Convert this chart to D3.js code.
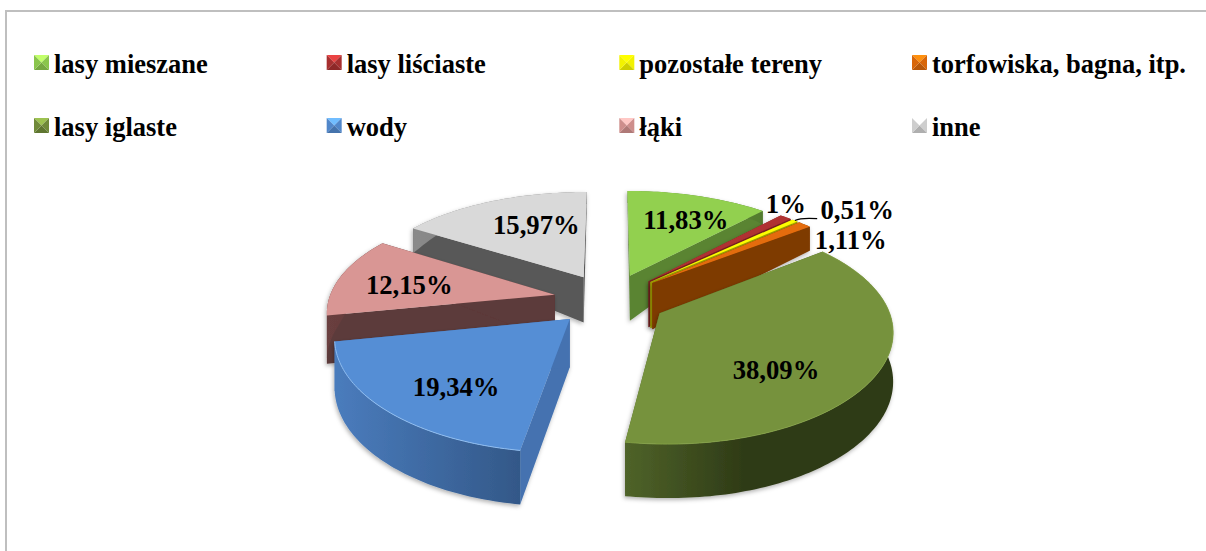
<!DOCTYPE html>
<html><head><meta charset="utf-8">
<style>html,body{margin:0;padding:0;background:#fff}svg{display:block}text{font-family:"Liberation Serif",serif;font-weight:bold;fill:#000}</style>
<script src="https://cdn.jsdelivr.net/npm/d3@7/dist/d3.min.js"></script>
</head><body><svg id="c" width="1206" height="551"></svg>
<script>
const categories = ["lasy mieszane","lasy liściaste","pozostałe tereny","torfowiska, bagna, itp.","lasy iglaste","wody","łąki","inne"];
const values = [11.83,1,0.51,1.11,38.09,19.34,12.15,15.97];
const labels = ["11,83%","1%","0,51%","1,11%","38,09%","19,34%","12,15%","15,97%"];
const topColors  = ["#92d050","#b03232","#ffff00","#e46c0a","#76923c","#558ed5","#d99694","#d9d9d9"];
const faceColors = ["#5a8431","#7a2020","#a0a000","#7e3a05","#4f6228","#4472b0","#5c3a3a","#595959"];
const wallLight  = ["#6a9a3a","#8a2525","#b0b000","#7e3a05","#4f6329","#4a7cbd","#6a3f3f","#8a8a8a"];
const wallDark   = ["#527a2e","#7a2020","#a0a000","#7e3a05","#2e3a16","#335888","#5c3a3a","#777777"];
// painter's order, back to front
const drawOrder = [0,7,1,2,3,6,5,4];
const labelNudge = [[13,-5],[52,-37],[117,-34],[104,-6],[-10,22],[-8,16],[-16,1.5],[10,-4]];

const svg = d3.select("#c");
const defs = svg.append("defs");
const W = 1206, H = 551;

// frame
svg.append("path").attr("d", d3.line()([[6,H],[6,11],[W,11]])).attr("fill","none").attr("stroke","#bfbfbf").attr("stroke-width",2);

// perspective projection of the pie plane
const cx = 610, cy = 299.5, ax = 226, by = 105.3, kx = 0.14, ky = 0.159, explode = 0.25;
const depthAt = d3.scaleLinear().domain([-1,-0.7,-0.2,1.1]).range([12,28,46,54]).clamp(true);
const project = (X, Y, Z) => [
  cx + ax * X / (1 - kx * Y),
  cy + by * Y / (1 - ky * Y) + depthAt(Y) * Z
];
const slices = d3.pie().sort(null).value(d => d)(values);
const mid = s => (s.startAngle + s.endAngle) / 2;
const pt = (s, a, r, z) => {
  const m = mid(s);
  return project(explode * Math.sin(m) + r * Math.sin(a), -explode * Math.cos(m) - r * Math.cos(a), z);
};
const line = d3.line();
const rim = (s, z) => {
  const n = Math.max(2, Math.ceil((s.endAngle - s.startAngle) / 0.02));
  return d3.range(n + 1).map(i => pt(s, s.startAngle + (s.endAngle - s.startAngle) * i / n, 1, z));
};

// soft shadow
const f = defs.append("filter").attr("id","sh").attr("x","-10%").attr("y","-10%").attr("width","120%").attr("height","120%");
f.append("feDropShadow").attr("dx",-1).attr("dy",2).attr("stdDeviation",2).attr("flood-color","#000").attr("flood-opacity",0.3);

const pie = svg.append("g");
drawOrder.forEach(i => {
  const s = slices[i];
  const g = pie.append("g").attr("filter", "url(#sh)");
  const id = "wall" + i;
  const gr = defs.append("linearGradient").attr("id", id);
  gr.append("stop").attr("offset","0%").attr("stop-color", wallLight[i]);
  gr.append("stop").attr("offset", i === 4 ? "45%" : "100%").attr("stop-color", wallDark[i]);
  if (i === 4) gr.append("stop").attr("offset","100%").attr("stop-color", wallDark[i]);

  const apexT = pt(s, 0, 0, 0), apexB = pt(s, 0, 0, 1);
  // cut faces
  const startFace = [apexT, pt(s, s.startAngle, 1, 0), pt(s, s.startAngle, 1, 1), apexB];
  const endFace = [apexT, pt(s, s.endAngle, 1, 0), pt(s, s.endAngle, 1, 1), apexB];
  g.append("path").attr("d", line(startFace) + "Z").attr("fill", faceColors[i]);
  g.append("path").attr("d", line(endFace) + "Z").attr("fill", faceColors[i]);
  // outer wall
  const t = rim(s, 0), b = rim(s, 1);
  g.append("path").attr("d", line(t.concat(b.slice().reverse())) + "Z").attr("fill", `url(#${id})`);
  // top
  g.append("path").attr("d", line([apexT].concat(t)) + "Z").attr("fill", topColors[i]);
  if (i === 5) g.append("path").attr("d", line(t)).attr("fill","none").attr("stroke","#8fbdf0").attr("stroke-width",1);
  if (i === 4) g.append("path").attr("d", line(t)).attr("fill","none").attr("stroke","#86a548").attr("stroke-width",0.8);
});

// data labels
const lab = svg.append("g").attr("font-size", 26.67).attr("text-anchor","middle");
slices.forEach((s, i) => {
  const p = pt(s, mid(s), 0.6, 0);
  const x = p[0] + labelNudge[i][0], y = p[1] + labelNudge[i][1];
  lab.append("text").attr("x", x).attr("y", y).attr("dy","0.33em").text(labels[i]);
  if (i === 2) {
    const r = pt(s, mid(s), 1, 0);
    const path = d3.path();
    path.moveTo(r[0], r[1]);
    path.quadraticCurveTo(r[0] + 6, r[1] - 3, x - 40, y + 9);
    svg.append("path").attr("d", path.toString()).attr("fill","none").attr("stroke","#000").attr("stroke-width",1.2);
  }
});

// legend
const colX = d3.scaleLinear().domain([0,3]).range([34,912]);
const rowY = d3.scaleLinear().domain([0,1]).range([55,118]);
const sz = 15;
const legend = svg.append("g").attr("font-size", 26.5);
categories.forEach((c, i) => {
  const x = colX(i % 4), y = rowY(Math.floor(i / 4));
  const g = legend.append("g").attr("transform", `translate(${x},${y})`);
  const base = d3.color(topColors[i]);
  const m = [sz / 2, sz / 2];
  const corners = [[0,0],[sz,0],[sz,sz],[0,sz]];
  const shades = [base.brighter(0.8), base.darker(0.15), base.darker(0.6), base.darker(0.15)];
  corners.forEach((q, j) => {
    g.append("path").attr("d", line([q, corners[(j + 1) % 4], m]) + "Z").attr("fill", shades[j]);
  });
  g.append("text").attr("x", 20).attr("y", 18).text(c);
});
</script></body></html>
